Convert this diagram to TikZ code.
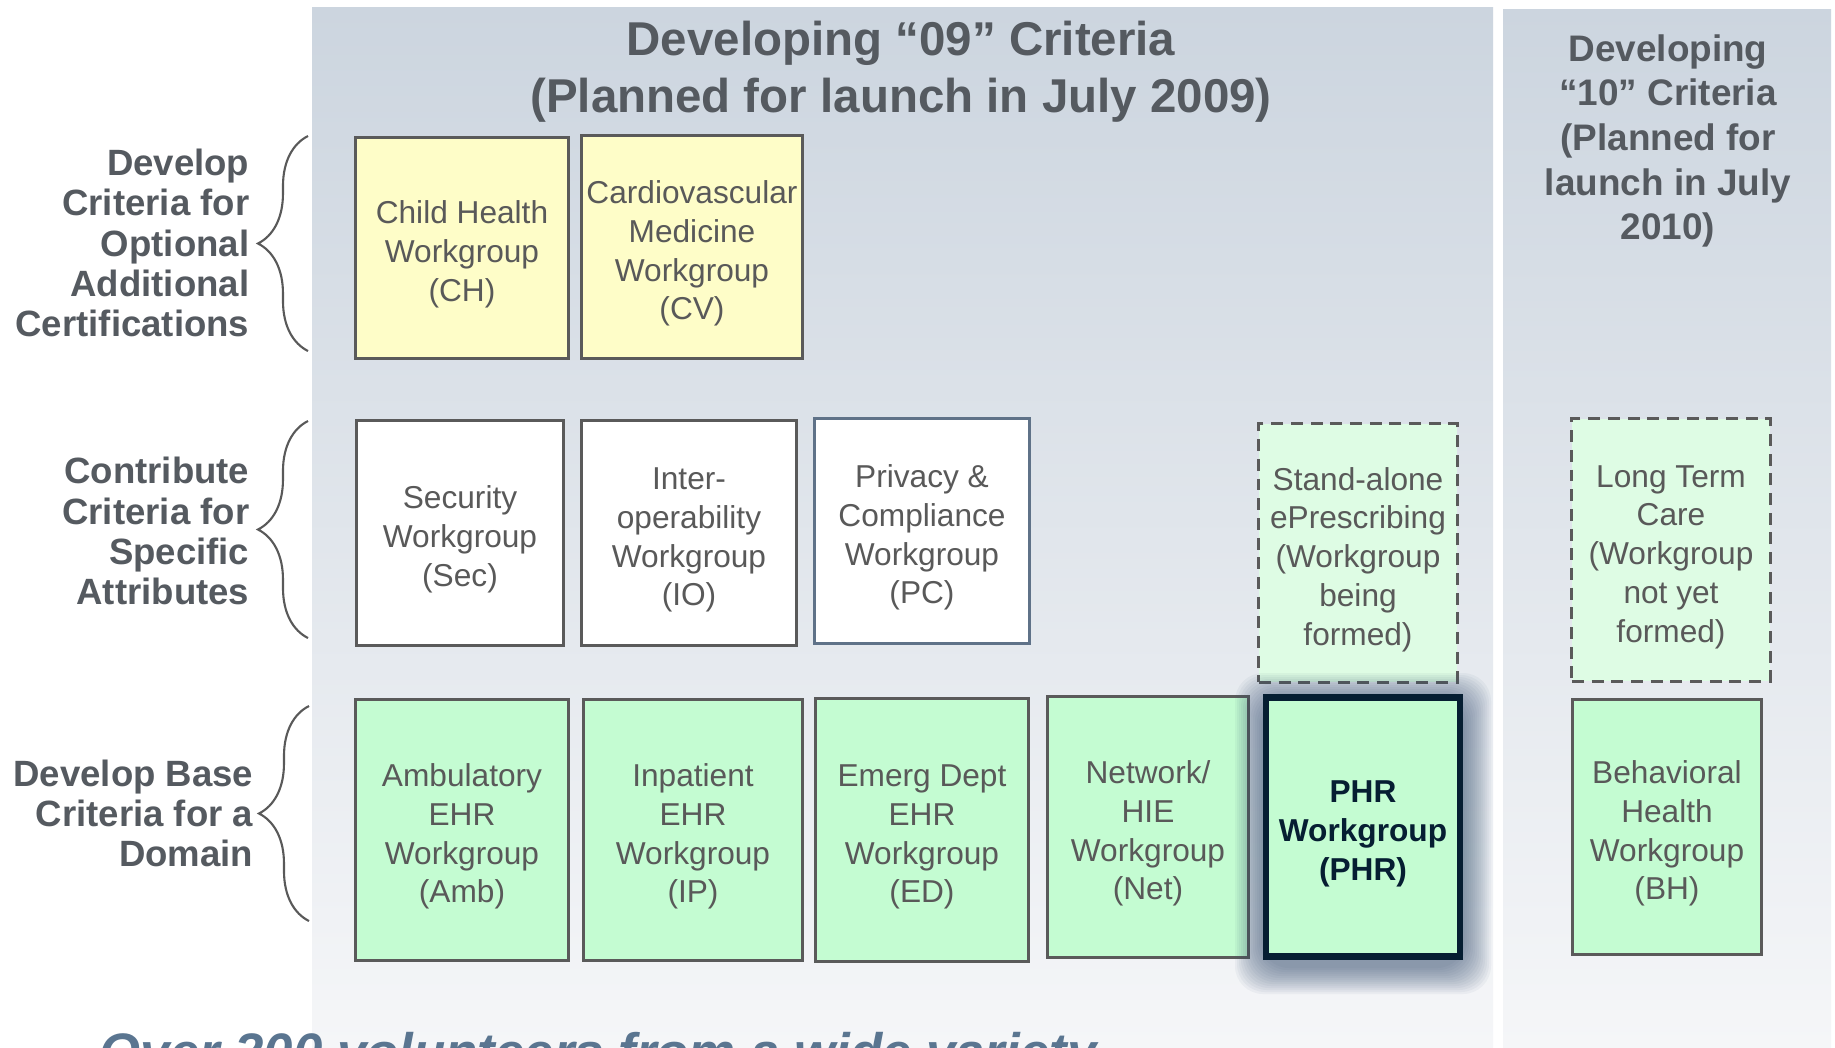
\documentclass[tikz,border=0pt]{standalone}
\usepackage{fontspec}
\setmainfont{Liberation Sans}
\usetikzlibrary{decorations.pathreplacing}

\definecolor{txtgray}{RGB}{89,89,89}
\definecolor{headgray}{RGB}{85,90,96}
\definecolor{boxgray}{RGB}{90,90,90}
\definecolor{pcblue}{RGB}{95,114,136}
\definecolor{panetop}{RGB}{204,213,223}
\definecolor{panebot}{RGB}{245,246,248}
\definecolor{wgyellow}{RGB}{254,253,200}
\definecolor{wggreen}{RGB}{196,252,210}
\definecolor{wgpale}{RGB}{222,252,228}
\definecolor{phrnavy}{RGB}{6,30,50}
\definecolor{glowblue}{RGB}{50,78,110}
\definecolor{notegray}{RGB}{90,117,144}

\newcommand{\boxfont}{\fontsize{9pt}{11pt}\selectfont}
\newcommand{\sidefont}{\fontsize{10.4pt}{11.4pt}\selectfont\bfseries}
\newcommand{\headfont}{\fontsize{13.5pt}{16.2pt}\selectfont\bfseries}
\newcommand{\nextfont}{\fontsize{10.5pt}{12.7pt}\selectfont\bfseries}
\newcommand{\lift}{\rule{0pt}{10.2pt}}

\tikzset{
  wg/.style={draw=boxgray, line width=0.85pt, align=center, inner sep=1pt, text=txtgray, font=\boxfont},
  ybox/.style={wg, fill=wgyellow},
  wbox/.style={wg, fill=white},
  gbox/.style={wg, fill=wggreen},
  dbox/.style={wg, fill=wgpale, dash pattern=on 3.4pt off 2.2pt},
  brc/.style={decorate, decoration={brace, amplitude=0.5cm}, draw=txtgray, line width=0.6pt},
  side/.style={anchor=east, align=right, inner sep=0pt, text=headgray, font=\sidefont}
}

\begin{document}
\begin{tikzpicture}[x=0.01cm,y=-0.01cm]
    \clip (0,0) rectangle (1835,1047);
    \fill[white] (0,0) rectangle (1835,1047);

    % Panels
    \shade[top color=panetop, bottom color=panebot] (312,7) rectangle (1493,1047);
    \shade[top color=panetop, bottom color=panebot] (1503,9) rectangle (1831,1047);

    % Titles
    \node[align=center, text=headgray, font=\headfont] (t09) at (901,72) {Developing “09” Criteria\\(Planned for launch in July 2009)};
    \node[align=center, text=headgray, font=\nextfont] (t10) at (1668,141) {Developing\\“10” Criteria\\(Planned for\\launch in July\\2010)};

    % Braces and row labels
    \draw[brc] (308,351) -- (308,136);
    \draw[brc] (308,638) -- (308,421);
    \draw[brc] (309,921) -- (309,706);
    \node[side] (optional) at (250,243) {Develop\\Criteria for\\Optional\\Additional\\Certifications};
    \node[side] (specific) at (250,531) {Contribute\\Criteria for\\Specific\\Attributes};
    \node[side] (domain) at (254,813) {Develop Base\\Criteria for a\\Domain};

    % Optional certifications
    \node[ybox, minimum width=2.12cm, minimum height=2.21cm] (ch) at (462,248) {\lift Child Health\\Workgroup\\(CH)};
    \node[ybox, minimum width=2.20cm, minimum height=2.23cm] (cv) at (692,247) {\lift Cardiovascular\\Medicine\\Workgroup\\(CV)};

    % Specific attributes
    \node[wbox, minimum width=2.07cm, minimum height=2.24cm] (sec) at (460,533) {\lift Security\\Workgroup\\(Sec)};
    \node[wbox, minimum width=2.14cm, minimum height=2.24cm] (io) at (689,533) {\lift Inter-\\operability\\Workgroup\\(IO)};
    \node[wbox, draw=pcblue, minimum width=2.14cm, minimum height=2.25cm] (pc) at (922,531) {\lift Privacy \&\\Compliance\\Workgroup\\(PC)};
    \node[dbox, minimum width=1.98cm, minimum height=2.58cm] (erx) at (1358,553) {\lift Stand-alone\\ePrescribing\\(Workgroup\\being\\formed)};
    \node[dbox, minimum width=1.98cm, minimum height=2.62cm] (ltc) at (1671,550) {\lift Long Term\\Care\\(Workgroup\\not yet\\formed)};

    % Base domains
    \node[gbox, minimum width=2.13cm, minimum height=2.61cm] (amb) at (462,830) {\lift Ambulatory\\EHR\\Workgroup\\(Amb)};
    \node[gbox, minimum width=2.18cm, minimum height=2.61cm] (ip) at (693,830) {\lift Inpatient\\EHR\\Workgroup\\(IP)};
    \node[gbox, minimum width=2.13cm, minimum height=2.62cm] (ed) at (922,830) {\lift Emerg Dept\\EHR\\Workgroup\\(ED)};
    \node[gbox, minimum width=2.00cm, minimum height=2.61cm] (net) at (1148,827) {\lift Network/\\HIE\\Workgroup\\(Net)};

    % Glow round PHR
    \foreach \k in {28,26,...,2} {
        \fill[glowblue, opacity=0.05, rounded corners=8pt] (1263-\k,701-\k) rectangle (1463+\k,966+\k);
    }
    \node[gbox, draw=phrnavy, line width=1.9pt, text=phrnavy, font=\boxfont\bfseries, minimum width=1.94cm, minimum height=2.59cm] (phr) at (1363,827) {\lift PHR\\Workgroup\\(PHR)};
    \node[gbox, minimum width=1.88cm, minimum height=2.55cm] (bh) at (1667,827) {\lift Behavioral\\Health\\Workgroup\\(BH)};

    % Note at the foot
    \node[anchor=base west, inner sep=0pt, text=notegray, font=\fontsize{15pt}{18pt}\selectfont\bfseries\itshape] (note) at (99,1070) {Over 200 volunteers from a wide variety};
\end{tikzpicture}
\end{document}
